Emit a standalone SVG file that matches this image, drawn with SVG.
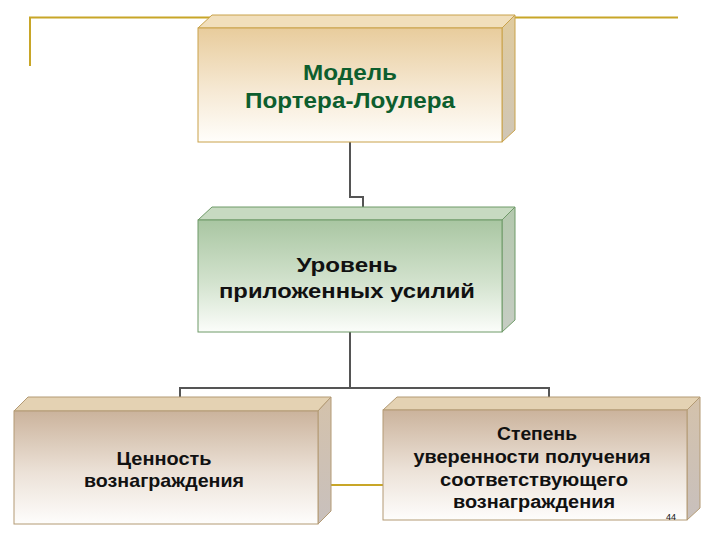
<svg xmlns="http://www.w3.org/2000/svg" width="720" height="540" viewBox="0 0 720 540">
<defs>
<linearGradient id="gGold" x1="0" y1="0" x2="0" y2="1">
<stop offset="0" stop-color="#e8cc9c"/><stop offset="0.55" stop-color="#f6e9d4"/><stop offset="1" stop-color="#fffefb"/>
</linearGradient>
<linearGradient id="gGreen" x1="0" y1="0" x2="0" y2="1">
<stop offset="0" stop-color="#a9c6a2"/><stop offset="0.55" stop-color="#d2e2cd"/><stop offset="1" stop-color="#fbfdfa"/>
</linearGradient>
<linearGradient id="gBrown" x1="0" y1="0" x2="0" y2="1">
<stop offset="0" stop-color="#cbb39c"/><stop offset="0.55" stop-color="#ece2d8"/><stop offset="1" stop-color="#fefdfc"/>
</linearGradient>
<linearGradient id="sGold" x1="0" y1="0" x2="0" y2="1">
<stop offset="0" stop-color="#e0cb9e"/><stop offset="1" stop-color="#cfc6b6"/>
</linearGradient>
<linearGradient id="sGreen" x1="0" y1="0" x2="0" y2="1">
<stop offset="0" stop-color="#b4c8ae"/><stop offset="1" stop-color="#c6cdc3"/>
</linearGradient>
<linearGradient id="sBrown" x1="0" y1="0" x2="0" y2="1">
<stop offset="0" stop-color="#d4c2ab"/><stop offset="1" stop-color="#c8c0bd"/>
</linearGradient>
</defs>
<style>
.frame{stroke:#c8a628;stroke-width:2;fill:none}
.conn{stroke:#555555;stroke-width:2;fill:none}
.t{font-family:"Liberation Sans",Arial,sans-serif;font-weight:bold;text-anchor:middle}
.g1{stroke:#c9a24a;stroke-width:1}
.g2{stroke:#6f9a68;stroke-width:1}
.g3{stroke:#b39a74;stroke-width:1}
</style>
<rect width="720" height="540" fill="#ffffff"/>
<g id="frame">
<path class="frame" d="M30 66 V17.5 H678"/>
<line class="frame" x1="330" y1="485" x2="383" y2="485"/>
</g>
<g id="connectors">
<path class="conn" d="M350 142 V197 H363 V207"/>
<path class="conn" d="M350 332 V388"/>
<path class="conn" d="M180 397 V388 H549 V397"/>
</g>
<g id="n1">
<polygon points="198,28 212,15 515,15 502,28" fill="#f1dfbc" class="g1"/>
<polygon points="502,28 515,15 515,130 502,142" fill="url(#sGold)" class="g1"/>
<rect x="198" y="28" width="304" height="114" fill="url(#gGold)" class="g1"/>
<text class="t" x="350" y="80" font-size="22" fill="#0d5e2e" textLength="94" lengthAdjust="spacingAndGlyphs">Модель</text>
<text class="t" x="350" y="108" font-size="22" fill="#0d5e2e" textLength="210" lengthAdjust="spacingAndGlyphs">Портера-Лоулера</text>
</g>
<g id="n2">
<polygon points="198,220 212,207 515,207 502,220" fill="#c7dac1" class="g2"/>
<polygon points="502,220 515,207 515,320 502,332" fill="url(#sGreen)" class="g2"/>
<rect x="198" y="220" width="304" height="112" fill="url(#gGreen)" class="g2"/>
<text class="t" x="347" y="272" font-size="21" fill="#111111" textLength="101" lengthAdjust="spacingAndGlyphs">Уровень</text>
<text class="t" x="347" y="298" font-size="21" fill="#111111" textLength="256" lengthAdjust="spacingAndGlyphs">приложенных усилий</text>
</g>
<g id="n3">
<polygon points="14,411 28,397 331,397 318,411" fill="#e4d2b3" class="g3"/>
<polygon points="318,411 331,397 331,511 318,524" fill="url(#sBrown)" class="g3"/>
<rect x="14" y="411" width="304" height="113" fill="url(#gBrown)" class="g3"/>
<text class="t" x="164" y="465" font-size="19" fill="#111111" textLength="95" lengthAdjust="spacingAndGlyphs">Ценность</text>
<text class="t" x="164" y="487" font-size="19" fill="#111111" textLength="160" lengthAdjust="spacingAndGlyphs">вознаграждения</text>
</g>
<g id="n4">
<polygon points="383,410 397,397 700,397 687,410" fill="#e4d2b3" class="g3"/>
<polygon points="687,410 700,397 700,508 687,520" fill="url(#sBrown)" class="g3"/>
<rect x="383" y="410" width="304" height="110" fill="url(#gBrown)" class="g3"/>
<text class="t" x="537" y="440" font-size="18" fill="#111111" textLength="80" lengthAdjust="spacingAndGlyphs">Степень</text>
<text class="t" x="532" y="463" font-size="18" fill="#111111" textLength="237" lengthAdjust="spacingAndGlyphs">уверенности получения</text>
<text class="t" x="534" y="486" font-size="18" fill="#111111" textLength="188" lengthAdjust="spacingAndGlyphs">соответствующего</text>
<text class="t" x="534" y="508" font-size="18" fill="#111111" textLength="162" lengthAdjust="spacingAndGlyphs">вознаграждения</text>
<text x="671" y="520" font-family="Liberation Sans,Arial,sans-serif" font-size="9" fill="#111111" text-anchor="middle">44</text>
</g>
</svg>
